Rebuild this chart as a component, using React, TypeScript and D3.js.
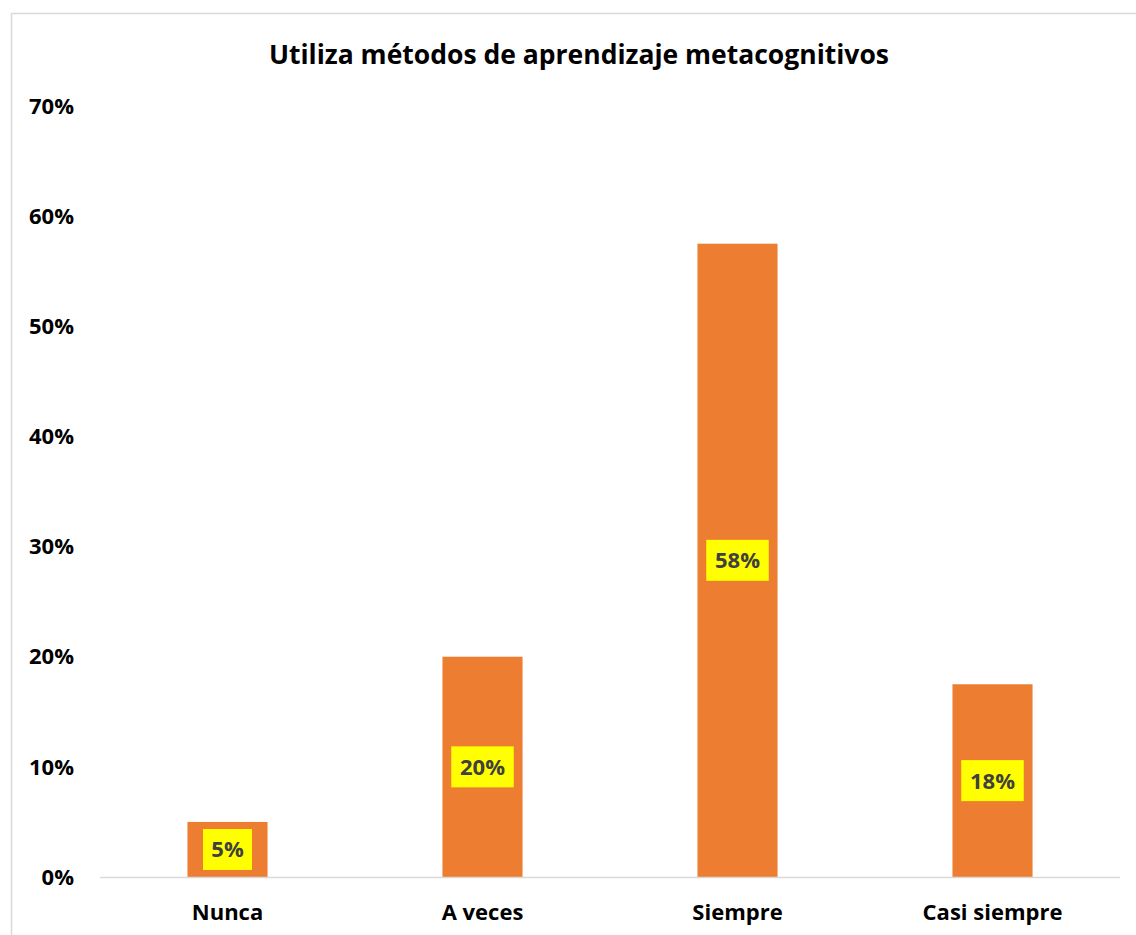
import React from "react";
import * as d3 from "d3";

const categories = ["Nunca", "A veces", "Siempre", "Casi siempre"];
const values = [0.05, 0.2, 0.575, 0.175];
const labels = ["5%", "20%", "58%", "18%"];
const yTicks = [0, 0.1, 0.2, 0.3, 0.4, 0.5, 0.6, 0.7];
const title = "Utiliza métodos de aprendizaje metacognitivos";

const W = 1136;
const H = 935;
const FONT = "'Open Sans', sans-serif";

export default function App() {
  const x = d3.scaleBand<string>().domain(categories).range([100, 1120]).paddingInner(0.686).paddingOuter(0.343);
  const y = d3.scaleLinear().domain([0, 0.7]).range([877, 106]);
  const fmt = d3.format(".0%");
  return (
    <svg width={W} height={H} style={{ position: "absolute", left: 0, top: 0 }}>
      <rect x={0} y={0} width={W} height={H} fill="#fff" />
      <rect x={11.5} y={13.5} width={1140} height={940} fill="none" stroke="#d9d9d9" strokeWidth={1.5} />
      <text x={579} y={64} textAnchor="middle" fontFamily={FONT} fontWeight="bold" fontSize={26.5} fill="#000">
        {title}
      </text>
      {yTicks.map((t) => (
        <text key={t} x={74} y={y(t)} dy="0.35em" textAnchor="end" fontFamily={FONT} fontWeight="bold" fontSize={22} fill="#000">
          {fmt(t)}
        </text>
      ))}
      {categories.map((c, i) => {
        const bx = x(c)!;
        const bw = x.bandwidth();
        const top = y(values[i]);
        const cy = (top + y(0)) / 2;
        const tw = labels[i].length * 13.5 + 22;
        return (
          <g key={c}>
            <rect x={bx} y={top} width={bw} height={y(0) - top} fill="#ED7D31" />
            <rect x={bx + bw / 2 - tw / 2} y={cy - 20.5} width={tw} height={41} fill="#FFFF00" />
            <text x={bx + bw / 2} y={cy} dy="0.36em" textAnchor="middle" fontFamily={FONT} fontWeight="bold" fontSize={22} fill="#404040">
              {labels[i]}
            </text>
            <text x={bx + bw / 2} y={912} dy="0.35em" textAnchor="middle" fontFamily={FONT} fontWeight="bold" fontSize={22} fill="#000">
              {c}
            </text>
          </g>
        );
      })}
      <line x1={100} x2={1120} y1={877.5} y2={877.5} stroke="#d9d9d9" strokeWidth={1.5} />
    </svg>
  );
}
